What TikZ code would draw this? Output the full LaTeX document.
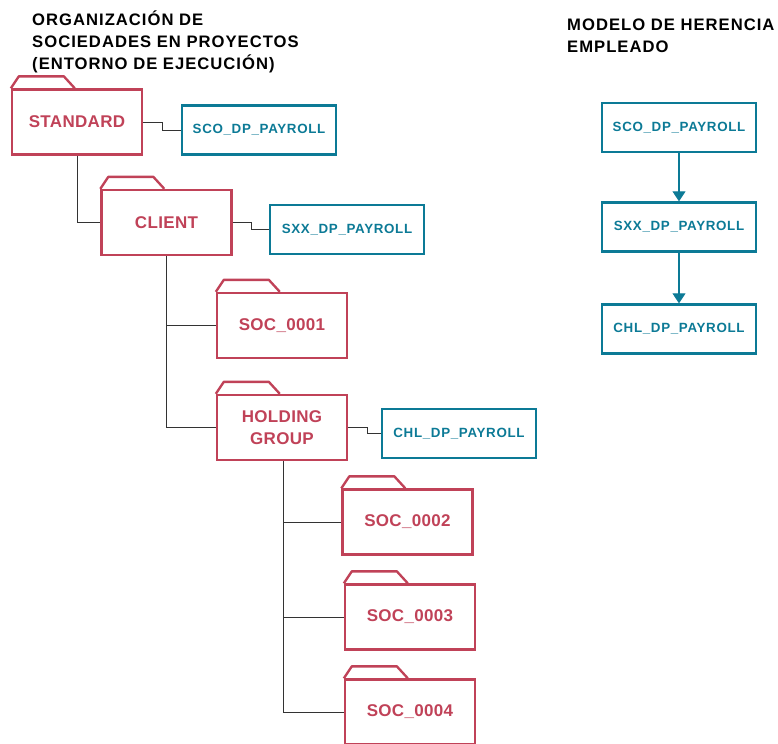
\documentclass[tikz,border=0pt]{standalone}
\usepackage{fontspec}
\setmainfont{Liberation Sans}
\usetikzlibrary{arrows.meta}
\definecolor{socred}{RGB}{192,66,88}
\definecolor{dpteal}{RGB}{12,122,150}
\tikzset{
  folder/.style={draw=socred, line width=2pt, text=socred, align=center,
    minimum width=3.9cm, minimum height=1.95cm, inner sep=0pt,
    font=\fontsize{14.5}{18.7}\selectfont\bfseries\addfontfeature{LetterSpace=2}},
  payroll/.style={draw=dpteal, line width=2pt, text=dpteal,
    minimum width=4.62cm, minimum height=1.47cm, inner sep=0pt,
    font=\fontsize{11.4}{13}\selectfont\bfseries\addfontfeature{LetterSpace=5}},
  link/.style={black!80, line width=0.8pt},
  inherit/.style={dpteal, line width=0.9pt, -{Triangle[length=8.5pt,width=11pt]}},
  title/.style={anchor=base west, align=left, inner sep=0pt,
    font=\fontsize{14.2}{18.7}\selectfont\bfseries\addfontfeature{LetterSpace=6}}
}
\begin{document}
\begin{tikzpicture}[x=0.03cm, y=-0.03cm]
\useasboundingbox (0,0) rectangle (778,743);

% titles (base anchor sits on the last line)
\node[title] (ttree) at (32,69) {ORGANIZACIÓN DE\\SOCIEDADES EN PROYECTOS\\(ENTORNO DE EJECUCIÓN)};
\node[title] (tmodel) at (567,52) {MODELO DE HERENCIA\\EMPLEADO};

% company folders
\node[folder] (standard) at (77,122) {STANDARD};
\node[folder] (client) at (166.5,222.5) {CLIENT};
\node[folder] (soc1) at (282,325.5) {SOC\_0001};
\node[folder] (holding) at (282,427.5) {HOLDING\\GROUP};
\node[folder] (soc2) at (407.5,522) {SOC\_0002};
\node[folder] (soc3) at (410,617) {SOC\_0003};
\node[folder] (soc4) at (410,712) {SOC\_0004};

% folder tabs
\foreach \n in {standard,client,soc1,holding,soc2,soc3,soc4} {
    \draw[socred, line width=2pt, line join=round]
      (\n.north west) -- ++(8,-12) -- ++(45,0) -- ++(11,12);
}

% payroll boxes next to the folders
\node[payroll] (sco) at (259,130) {SCO\_DP\_PAYROLL};
\node[payroll] (sxx) at (347,229.5) {SXX\_DP\_PAYROLL};
\node[payroll] (chl) at (459,433.5) {CHL\_DP\_PAYROLL};

\draw[link] (standard.east) -- ++(19,0) |- (sco.west);
\draw[link] (client.east) -- ++(19,0) |- (sxx.west);
\draw[link] (holding.east) -- ++(19,0) |- (chl.west);

% tree
\draw[link] (standard.south) |- (client.west);
\foreach \n in {soc1,holding} {
    \draw[link] (client.south) |- (\n.west);
}
\foreach \n in {soc2,soc3,soc4} {
    \draw[link] ([xshift=0.03cm]holding.south) |- (\n.west);
}

% inheritance chain
\node[payroll] (msco) at (679,127.5) {SCO\_DP\_PAYROLL};
\node[payroll] (msxx) at (679,227) {SXX\_DP\_PAYROLL};
\node[payroll] (mchl) at (679,329) {CHL\_DP\_PAYROLL};
\draw[inherit] (msco) -- (msxx);
\draw[inherit] (msxx) -- (mchl);
\end{tikzpicture}
\end{document}
